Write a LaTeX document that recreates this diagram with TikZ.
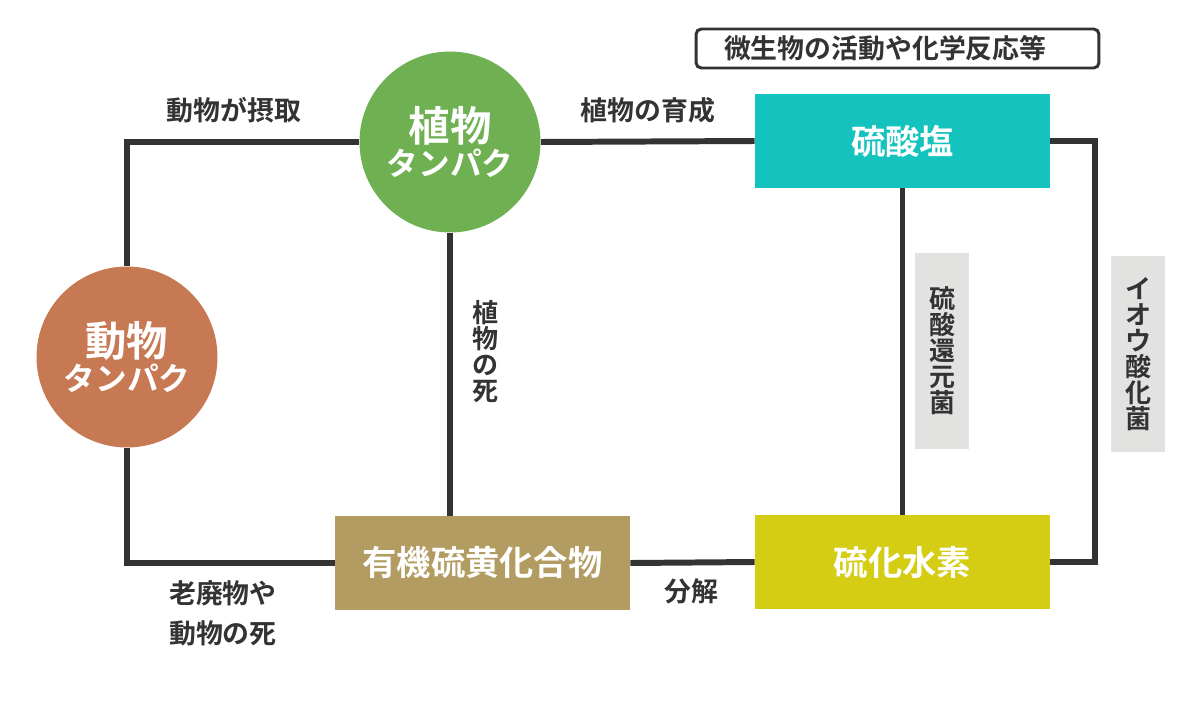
\documentclass[tikz,border=0pt]{standalone}
\usepackage{fontspec}
\setmainfont{Noto Sans CJK JP}[BoldFont={* Bold}]
\usepackage{xcolor}
\usepackage{tikz}
\usetikzlibrary{positioning,calc,backgrounds}
\definecolor{leafgreen}{RGB}{111,177,82}
\definecolor{fleshbrown}{RGB}{199,121,83}
\definecolor{sulfteal}{RGB}{20,194,190}
\definecolor{sulfyellow}{RGB}{213,204,20}
\definecolor{soiltan}{RGB}{179,156,98}
\definecolor{tagbg}{RGB}{226,226,225}
\definecolor{ink}{RGB}{51,51,51}

\begin{document}
\begin{tikzpicture}[
  x=0.02cm, y=-0.02cm,
  pool/.style={circle, minimum size=3.62cm, inner sep=0pt, text=white,
    align=center, font=\bfseries},
  box/.style={rectangle, minimum width=5.9cm, minimum height=1.88cm,
    inner sep=0pt, text=white, font=\bfseries\fontsize{19.5}{22}\selectfont},
  link/.style={draw=ink, line width=3.4pt},
  note/.style={text=ink, font=\bfseries\fontsize{15.3}{22.7}\selectfont, align=left},
  upright/.style={text=ink, font=\bfseries\fontsize{14.8}{14.8}\selectfont, align=center},
  tag/.style={fill=tagbg, minimum width=1.08cm, minimum height=3.92cm, inner sep=0pt}
]
\useasboundingbox (0,0) rectangle (1200,700);

% pools of sulfur
\node[pool, fill=leafgreen] (plant) at (450,142)
  {{\fontsize{23.5}{27}\selectfont 植物}\\[1.5pt]{\fontsize{18}{21}\selectfont タンパク}};
\node[pool, fill=fleshbrown] (animal) at (127,357)
  {{\fontsize{23.5}{27}\selectfont 動物}\\[1.5pt]{\fontsize{18}{21}\selectfont タンパク}};
\node[box, fill=sulfteal] (sulfate) at (902.5,141) {硫酸塩};
\node[box, fill=sulfyellow] (sulfide) at (902.5,562) {硫化水素};
\node[box, fill=soiltan] (organic) at (482.5,563) {有機硫黄化合物};

\coordinate (oxline) at (1095,350);

\begin{scope}[on background layer]
\draw[link] (animal.north) |- (plant.west);
\draw[link] (plant.east) -- (sulfate.west);
\draw[link] (plant.south) -- (plant.south |- organic.north);
\draw[link] (animal.south) |- (organic.west);
\draw[link] (organic.east) -- (sulfide.west);
\draw[link] (sulfate.south) -- (sulfide.north);
\draw[link] (sulfate.east) -| (oxline) |- (sulfide.east);
\end{scope}

% bacteria tags
\node[tag] (reducer) at (942,351) {};
\node[upright] at (reducer) {硫\\酸\\還\\元\\菌};
\node[tag] (oxidizer) at (1138,354) {};
\node[upright] at (oxidizer) {イ\\オ\\ウ\\酸\\化\\菌};

% labels
\node[note] (eat) at (234,110) {動物が摂取};
\node[note] (grow) at (648,110) {植物の育成};
\node[upright] (plantdeath) at (485,352) {植\\物\\の\\死};
\node[note, anchor=west] (waste) at (163,613) {老廃物や\\動物の死};
\node[note] (decomp) at (691,591) {分解};
\node[note, draw=ink, line width=1.7pt, rounded corners=3pt, text width=6.94cm,
  inner xsep=0.56cm, minimum height=0.78cm] (microbe) at (897.5,48.5)
  {微生物の活動や化学反応等};
\end{tikzpicture}
\end{document}
